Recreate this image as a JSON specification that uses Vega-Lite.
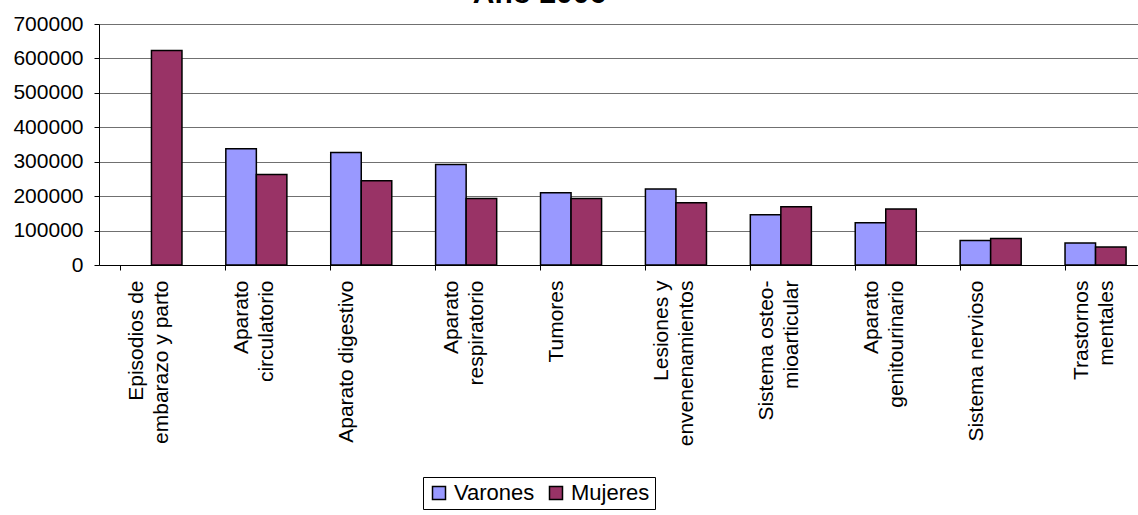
{
  "$schema": "https://vega.github.io/schema/vega-lite/v6.json",
  "autosize": "none",
  "width": 1039,
  "height": 241,
  "padding": {"left": 99, "top": 24, "right": 0, "bottom": 250},
  "background": "white",
  "title": {
    "text": "Año 2006",
    "font": "Liberation Sans",
    "fontSize": 30,
    "fontWeight": "bold",
    "color": "black",
    "anchor": "middle",
    "frame": "bounds",
    "baseline": "alphabetic",
    "offset": 8,
    "dx": -41,
    "dy": 28
  },
  "config": {
    "view": {"stroke": null},
    "font": "Liberation Sans",
    "axis": {
      "labelFont": "Liberation Sans",
      "labelFontSize": 21,
      "labelColor": "black",
      "domainColor": "black",
      "tickColor": "black",
      "tickSize": 5,
      "gridColor": "#707070",
      "gridWidth": 1,
      "title": null
    }
  },
  "data": {
    "values": [
      {"categoria": "Episodios de embarazo y parto", "sexo": "Mujeres", "altas": 623000},
      {"categoria": "Aparato circulatorio", "sexo": "Varones", "altas": 338000},
      {"categoria": "Aparato circulatorio", "sexo": "Mujeres", "altas": 263000},
      {"categoria": "Aparato digestivo", "sexo": "Varones", "altas": 327000},
      {"categoria": "Aparato digestivo", "sexo": "Mujeres", "altas": 245000},
      {"categoria": "Aparato respiratorio", "sexo": "Varones", "altas": 292000},
      {"categoria": "Aparato respiratorio", "sexo": "Mujeres", "altas": 193000},
      {"categoria": "Tumores", "sexo": "Varones", "altas": 210000},
      {"categoria": "Tumores", "sexo": "Mujeres", "altas": 193000},
      {"categoria": "Lesiones y envenenamientos", "sexo": "Varones", "altas": 221000},
      {"categoria": "Lesiones y envenenamientos", "sexo": "Mujeres", "altas": 181000},
      {"categoria": "Sistema osteo-mioarticular", "sexo": "Varones", "altas": 146000},
      {"categoria": "Sistema osteo-mioarticular", "sexo": "Mujeres", "altas": 169000},
      {"categoria": "Aparato genitourinario", "sexo": "Varones", "altas": 123000},
      {"categoria": "Aparato genitourinario", "sexo": "Mujeres", "altas": 163000},
      {"categoria": "Sistema nervioso", "sexo": "Varones", "altas": 71000},
      {"categoria": "Sistema nervioso", "sexo": "Mujeres", "altas": 77000},
      {"categoria": "Trastornos mentales", "sexo": "Varones", "altas": 64000},
      {"categoria": "Trastornos mentales", "sexo": "Mujeres", "altas": 52000}
    ]
  },
  "mark": {"type": "bar", "stroke": "black", "strokeWidth": 1.5},
  "encoding": {
    "x": {
      "field": "categoria",
      "type": "nominal",
      "sort": null,
      "scale": {"range": [0, 1049], "paddingInner": 0.418, "paddingOuter": 0.209},
      "axis": {
        "labelAngle": 270,
        "bandPosition": 0,
        "labelPadding": 10,
        "labelLineHeight": 25,
        "labelOffset": -14,
        "labelExpr": "datum.value == 'Episodios de embarazo y parto' ? ['Episodios de', 'embarazo y parto'] : datum.value == 'Aparato circulatorio' ? ['Aparato', 'circulatorio'] : datum.value == 'Aparato respiratorio' ? ['Aparato', 'respiratorio'] : datum.value == 'Lesiones y envenenamientos' ? ['Lesiones y', 'envenenamientos'] : datum.value == 'Sistema osteo-mioarticular' ? ['Sistema osteo-', 'mioarticular'] : datum.value == 'Aparato genitourinario' ? ['Aparato', 'genitourinario'] : datum.value == 'Trastornos mentales' ? ['Trastornos', 'mentales'] : datum.value"
      }
    },
    "xOffset": {
      "field": "sexo",
      "type": "nominal",
      "sort": ["Varones", "Mujeres"],
      "scale": {"domain": ["Varones", "Mujeres"], "paddingInner": 0, "paddingOuter": 0}
    },
    "y": {
      "field": "altas",
      "type": "quantitative",
      "scale": {"domain": [0, 700000], "nice": false},
      "axis": {
        "values": [0, 100000, 200000, 300000, 400000, 500000, 600000, 700000],
        "format": "d",
        "labelPadding": 11,
        "grid": true
      }
    },
    "color": {
      "field": "sexo",
      "type": "nominal",
      "scale": {"domain": ["Varones", "Mujeres"], "range": ["#9999FF", "#993366"]},
      "legend": {
        "title": null,
        "orient": "none",
        "legendX": 324,
        "legendY": 453,
        "direction": "horizontal",
        "strokeColor": "black",
        "fillColor": "white",
        "padding": 5,
        "symbolType": "square",
        "symbolSize": 169,
        "symbolStrokeColor": "black",
        "symbolStrokeWidth": 1.5,
        "labelFont": "Liberation Sans",
        "labelFontSize": 22,
        "labelColor": "black",
        "labelOffset": 4,
        "columnPadding": 10
      }
    }
  }
}
